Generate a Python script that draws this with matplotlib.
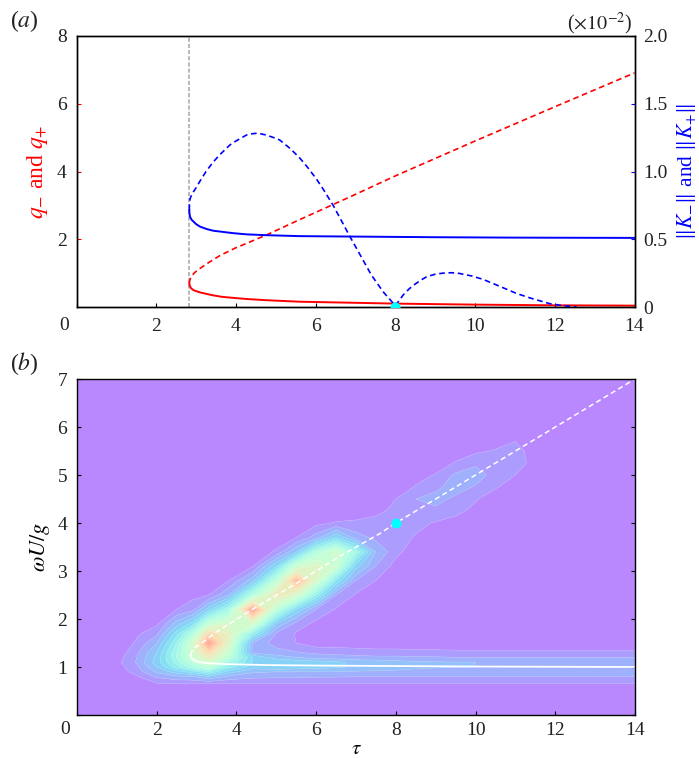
import numpy as np
import matplotlib
matplotlib.use("Agg")
import matplotlib.pyplot as plt

plt.rcParams['font.family'] = ['Liberation Serif', 'DejaVu Serif']
plt.rcParams['mathtext.fontset'] = 'stix'
plt.rcParams['font.size'] = 14
plt.rcParams['axes.linewidth'] = 1.0

# panel (a)
tau_fold = 2.83
tau_qm = [2.83, 2.84, 2.87, 2.93, 3.0, 3.1, 3.27, 3.4, 3.65, 3.93, 4.27, 4.77, 5.6, 6.86, 8, 10, 12, 14]
qm = [0.70, 0.63, 0.56, 0.50, 0.47, 0.43, 0.385, 0.35, 0.30, 0.27, 0.236, 0.20, 0.156, 0.127, 0.10, 0.07, 0.05, 0.04]
tau_qp = [2.83, 2.84, 2.86, 2.89, 2.95, 3.0, 3.1, 3.3, 3.6, 4, 4.27, 4.81, 5.6, 6.86, 8, 10, 12, 14]
qp = [0.70, 0.78, 0.85, 0.915, 1.0, 1.05, 1.14, 1.30, 1.52, 1.75, 1.88, 2.15, 2.58, 3.25, 3.87, 4.90, 5.91, 6.91]
tau_km = [2.83, 2.835, 2.85, 2.89, 3.0, 3.1, 3.27, 3.43, 3.93, 4.27, 4.77, 5.6, 6.86, 9, 11, 14]
km = [0.716, 0.69, 0.665, 0.643, 0.612, 0.593, 0.575, 0.563, 0.545, 0.536, 0.53, 0.523, 0.52, 0.515, 0.512, 0.51]
tau_kp = [2.83, 2.835, 2.85, 2.9, 3.0, 3.1, 3.25, 3.43, 3.6, 3.85, 4.0, 4.27, 4.4, 4.54, 4.75, 5.0, 5.1, 5.36,
          5.6, 5.8, 6.03, 6.2, 6.44, 6.65, 6.86, 7.4, 7.7, 8.0, 8.1, 8.2, 8.35, 8.5, 8.65, 8.79, 9.0, 9.2, 9.41, 9.6,
          9.9, 10.2, 10.6, 11.04, 11.4, 11.88, 12.2, 12.55]
kp = [0.716, 0.76, 0.80, 0.835, 0.88, 0.93, 1.00, 1.07, 1.125, 1.196, 1.225, 1.27, 1.278, 1.283, 1.27, 1.245, 1.232,
      1.17, 1.10, 1.03, 0.94, 0.865, 0.75, 0.635, 0.52, 0.235, 0.11, 0.01, 0.05, 0.09, 0.135, 0.17, 0.20, 0.224, 0.242, 0.25,
      0.253, 0.248, 0.23, 0.204, 0.155, 0.10, 0.065, 0.024, 0.01, 0.0]

# panel (b) curves
tau_w1 = [2.85, 2.86, 2.88, 2.92, 3.0, 3.1, 3.25, 3.75, 4.76, 6, 8, 10, 14]
w1 = [1.25, 1.22, 1.18, 1.15, 1.12, 1.10, 1.08, 1.06, 1.04, 1.03, 1.02, 1.01, 1.0]
tau_w2 = [2.85, 2.87, 2.9, 3.0, 3.13, 3.5, 4.38, 5.5, 6.6, 7.6, 8, 14]
w2 = [1.25, 1.30, 1.35, 1.43, 1.5, 1.73, 2.19, 2.74, 3.31, 3.78, 4.0, 7.0]

# panel (b) field, contour level units
tau_grid = [0, 1, 1.5, 2, 2.5, 2.9, 3.3, 3.8, 4.4, 5, 5.5, 6, 6.5, 7, 7.5, 8, 8.5, 9, 9.5, 10, 10.5, 11, 11.5, 14]
w_grid = [0, 0.5, 0.65, 0.8, 0.9, 1.0, 1.1, 1.2, 1.3, 1.5, 1.7, 1.9, 2.2, 2.5, 2.8, 3.1, 3.4, 3.7,
          4.0, 4.25, 4.5, 4.75, 5.0, 5.25, 5.5, 5.75, 7]
field = [
    [0, 0, 0, 0, 0, 0, 0, 0, 0, 0, 0, 0, 0, 0, 0, 0, 0, 0, 0, 0, 0, 0, 0, 0],
    [0, 0, 0, 0, 0, 0, 0, 0, 0, 0, 0, 0, 0, 0, 0, 0, 0, 0, 0, 0, 0, 0, 0, 0],
    [0, 0, 0, 0.9, 1, 1, 1, 1, 1, 1, 1, 1, 1, 1, 1, 1, 1, 1, 1, 1, 1, 1, 1, 1],
    [0, 0, 0.9, 2.2, 2.8, 3, 4, 2.8, 2.3, 2.2, 2.2, 2.1, 2.1, 2, 2, 2, 2, 2, 2, 2, 2, 2, 2, 2],
    [0, 0.3, 1.5, 3.2, 4.5, 5.5, 7, 4.5, 3.2, 3, 3, 3, 3, 2.9, 2.8, 2.8, 2.7, 2.6, 2.6, 2.5, 2.5, 2.45, 2.4, 2.4],
    [0, 0.5, 1.8, 4, 6.5, 8.5, 10, 6.5, 4.5, 5, 4.7, 4.5, 4.2, 3.8, 3.6, 3.4, 3.2, 3.1, 3.05, 3, 2.95, 2.8, 2.5, 2.5],
    [0, 0.7, 2.1, 4.5, 7.5, 10, 12, 8, 5, 5, 4.7, 4.5, 4.2, 3.8, 3.6, 3.4, 3.2, 3.1, 3.05, 3, 2.9, 2.8, 2.5, 2.5],
    [0, 0.5, 2, 4.3, 8, 11, 13.5, 10, 5, 3.5, 3, 2.6, 2.4, 2.3, 2.2, 2.2, 2.1, 2.1, 2, 2, 2, 2, 2, 2],
    [0, 0.3, 1.8, 4, 8, 11.5, 15, 11, 2.8, 2.5, 2.1, 1.8, 1.7, 1.6, 1.5, 1.5, 1.4, 1.4, 1.3, 1.3, 1.3, 1.3, 1.3, 1.3],
    [0, 0, 1.2, 3, 7, 11.5, 18.5, 12.5, 3, 1.5, 1, 0.4, 0.4, 0.3, 0.2, 0.2, 0.1, 0.1, 0.1, 0.1, 0.1, 0.1, 0.1, 0.1],
    [0, 0, 0.8, 1.7, 5.5, 9, 15, 13, 7, 1.9, 0.9, 0.2, 0, 0, 0, 0, 0, 0, 0, 0, 0, 0, 0, 0],
    [0, 0, 0.3, 0.8, 3.5, 5.5, 10.5, 12, 12, 4, 1.6, 0.7, 0.3, 0, 0, 0, 0, 0, 0, 0, 0, 0, 0, 0],
    [0, 0, 0, 0, 1, 1.6, 4.5, 8, 18.5, 10, 5, 2, 0.9, 0, 0, 0, 0, 0, 0, 0, 0, 0, 0, 0],
    [0, 0, 0, 0, 0.3, 0.7, 1, 3, 9, 14, 12, 7, 2, 0.9, 0, 0, 0, 0, 0, 0, 0, 0, 0, 0],
    [0, 0, 0, 0, 0, 0, 0.3, 1, 3.5, 10, 17, 12, 6, 2, 1, 0, 0, 0, 0, 0, 0, 0, 0, 0],
    [0, 0, 0, 0, 0, 0, 0, 0.3, 0.9, 5, 11, 12.5, 11, 4.5, 2, 0.6, 0, 0, 0, 0, 0, 0, 0, 0],
    [0, 0, 0, 0, 0, 0, 0, 0, 0, 1.2, 4, 9, 11.5, 8, 3, 1.3, 0.4, 0, 0, 0, 0, 0, 0, 0],
    [0, 0, 0, 0, 0, 0, 0, 0, 0, 0.2, 1, 2.5, 5, 2.5, 1.7, 1.5, 0.9, 0.2, 0, 0, 0, 0, 0, 0],
    [0, 0, 0, 0, 0, 0, 0, 0, 0, 0, 0, 0.7, 1.1, 1.2, 1.3, 1.4, 1.3, 0.9, 0.6, 0.2, 0, 0, 0, 0],
    [0, 0, 0, 0, 0, 0, 0, 0, 0, 0, 0, 0, 0.3, 0.4, 0.8, 1.2, 1.6, 1.8, 1.3, 0.7, 0.2, 0, 0, 0],
    [0, 0, 0, 0, 0, 0, 0, 0, 0, 0, 0, 0, 0, 0, 0.2, 1, 2, 2.3, 1.8, 1.1, 0.5, 0.1, 0, 0],
    [0, 0, 0, 0, 0, 0, 0, 0, 0, 0, 0, 0, 0, 0, 0, 0.3, 1.1, 1.8, 2.4, 1.9, 1.1, 0.5, 0, 0],
    [0, 0, 0, 0, 0, 0, 0, 0, 0, 0, 0, 0, 0, 0, 0, 0, 0.5, 1.1, 2.2, 2.5, 1.6, 1, 0.2, 0],
    [0, 0, 0, 0, 0, 0, 0, 0, 0, 0, 0, 0, 0, 0, 0, 0, 0, 0.3, 1.1, 1.8, 1.5, 1.5, 0.6, 0],
    [0, 0, 0, 0, 0, 0, 0, 0, 0, 0, 0, 0, 0, 0, 0, 0, 0, 0, 0.4, 0.8, 1.1, 1.4, 0.5, 0],
    [0, 0, 0, 0, 0, 0, 0, 0, 0, 0, 0, 0, 0, 0, 0, 0, 0, 0, 0, 0.1, 0.5, 0.9, 0, 0],
    [0, 0, 0, 0, 0, 0, 0, 0, 0, 0, 0, 0, 0, 0, 0, 0, 0, 0, 0, 0, 0, 0, 0, 0],
]
x_labels = ['', '2', '4', '6', '8', '10', '12', '14']
dash = (0, (3.4, 2.2))
ink = '#222222'


def main():
    fig = plt.figure(figsize=(6.99, 7.58), dpi=100)
    W, H = 699.0, 758.0
    ax1 = fig.add_axes([76.5 / W, 1 - 307 / H, 558 / W, 271 / H])
    ax3 = fig.add_axes([77 / W, 1 - 715 / H, 558 / W, 336 / H])

    # top panel
    ax1.plot([tau_fold, tau_fold], [0, 8], color='0.68', lw=1.2, ls=(0, (2.5, 1.2)))
    ax1.plot(tau_qm, qm, color='red', lw=1.4)
    ax1.plot(tau_qp, qp, color='red', lw=1.2, ls=dash)
    ax1.set_xlim(0, 14)
    ax1.set_ylim(0, 8)
    ax1.set_xticks(range(0, 15, 2))
    ax1.set_xticklabels(x_labels)
    ax1.set_yticks(range(0, 9, 2))
    ax1.set_yticklabels(['', '2', '4', '6', '8'])
    ax1.tick_params(axis='x', direction='in', length=3, pad=8, labelcolor=ink)
    ax1.tick_params(axis='y', colors='red', direction='in', length=3, labelcolor=ink, pad=7)
    ax1.annotate('0', xy=(0, 0), xytext=(-12, -18), textcoords='offset pixels', ha='center', va='center', color=ink, annotation_clip=False)
    ax1.set_ylabel(r'$q_{-}$ and $q_{+}$', color='red', fontsize=17)
    ax1.yaxis.set_label_coords(-0.047, 0.5)

    ax2 = ax1.twinx()
    ax2.plot(tau_km, km, color='blue', lw=1.4)
    ax2.plot(tau_kp, kp, color='blue', lw=1.2, ls=dash)
    ax2.scatter([8], [0], s=40, color='cyan', zorder=3, clip_on=True)
    ax2.set_ylim(0, 2)
    ax2.set_yticks([0, 0.5, 1, 1.5, 2])
    ax2.set_yticklabels(['0', '0.5', '1.0', '1.5', '2.0'])
    ax2.tick_params(axis='y', colors='blue', direction='in', length=3, labelcolor=ink, pad=6)
    ax2.set_ylabel(r'$\Vert K_{-}\Vert$ and $\Vert K_{+}\Vert$', color='blue', fontsize=15.5)
    ax2.yaxis.set_label_coords(1.073, 0.5)
    ax2.text(0.997, 1.045, r'($\times 10^{-2}$)', transform=ax2.transAxes, ha='right', va='center', color=ink, fontsize=14.5)
    ax1.text(-0.12, 1.055, r'($a$)', transform=ax1.transAxes, fontsize=17, ha='left', va='center', color=ink)

    # bottom panel
    levels = np.arange(0, 21)
    z = np.array(field)
    ax3.contourf(tau_grid, w_grid, z, levels=levels, cmap='rainbow', alpha=0.5, antialiased=True)
    ax3.contour(tau_grid, w_grid, z, levels=levels[1:], colors='white', linewidths=0.4, alpha=0.2)
    ax3.plot(tau_w1, w1, color='white', lw=1.3)
    ax3.plot(tau_w2, w2, color='white', lw=1.1, ls=dash)
    ax3.scatter([8], [4], s=50, color='cyan', zorder=4, lw=0)
    ax3.set_xlim(0, 14)
    ax3.set_ylim(0, 7)
    ax3.set_xticks(range(0, 15, 2))
    ax3.set_xticklabels(x_labels)
    ax3.set_yticks(range(0, 8))
    ax3.set_yticklabels(['', '1', '2', '3', '4', '5', '6', '7'])
    ax3.tick_params(direction='in', length=3, right=True, labelcolor=ink, pad=7)
    ax3.tick_params(axis='x', pad=5)
    ax3.annotate('0', xy=(0, 0), xytext=(-12, -14), textcoords='offset pixels', ha='center', va='center', color=ink, annotation_clip=False)
    ax3.set_xlabel(r'$\tau$', fontsize=15)
    ax3.xaxis.set_label_coords(0.5, -0.075)
    ax3.set_ylabel(r'$\omega U/g$', fontsize=16)
    ax3.yaxis.set_label_coords(-0.045, 0.5)
    ax3.text(-0.12, 1.045, r'($b$)', transform=ax3.transAxes, fontsize=17, ha='left', va='center', color=ink)

    fig.savefig("out.png", dpi=100)


if __name__ == "__main__":
    main()
